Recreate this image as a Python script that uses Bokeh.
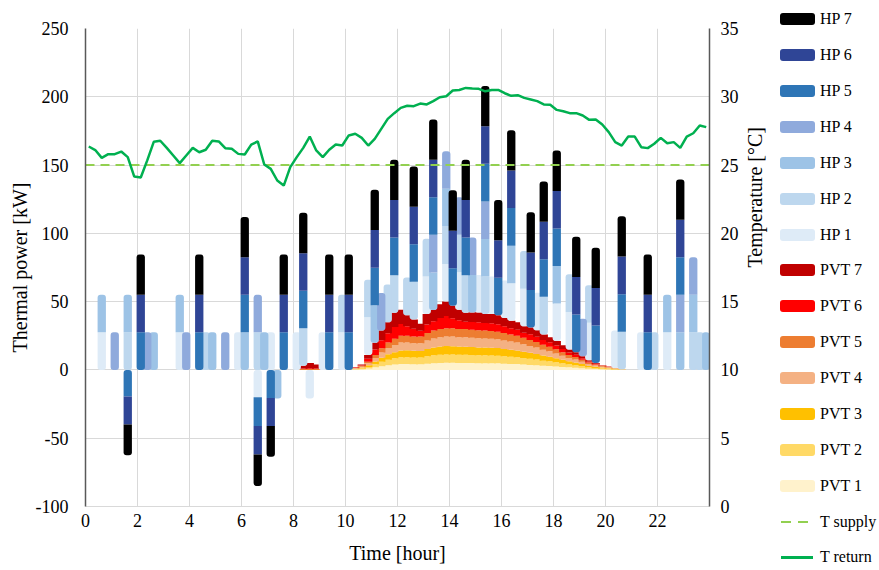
import math
import numpy as np
from bokeh.plotting import figure
from bokeh.layouts import row
from bokeh.models import Range1d, LinearAxis, FixedTicker, Div
from bokeh.embed import file_html
from bokeh.resources import INLINE

# 15-minute slots over one day (slot centres, hours)
time_h = np.arange(96) * 0.25 + 0.125

# Heat pump thermal power per 15-min slot [kW] (negative = cooling)
HP1 = [0, 0, 27.5, 0, 0, 0, 0, 0,   0, 0, 0, 0, 0, 0, 27.5, 0,
       0, 0, 0, 0, 0, 0, 0, 27.5,   0, 0, -20, 0, 27.5, 0, 0, 0,
       27.5, 0, -21, 0, 27.5, 0, 0, 27.5,   0, 0, 0, 27.5, 0, 0, 0, 0,
       0, 0, 0, 0, 27.5, 0, 0, 27.5,   0, 27.5, 0, 0, 27.5, 0, 27.5, 0,
       27.5, 27.5, 0, 27.5, 0, 27.5, 0, 0,   27.5, 0, 27.5, 0, 0, 27.5, 0, 0,
       0, 27.5, 0, 0, 0, 27.5, 0, 0,   0, 27.5, 0, 0, 0, 0, 0, 0]
HP2 = [0, 0, 0, 0, 0, 0, 27.5, 0,   0, 0, 0, 0, 0, 0, 0, 0,
       0, 0, 27.5, 0, 0, 0, 0, 0,   0, 0, 27.5, 0, 0, 0, 0, 0,
       0, 27.5, 0, 0, 0, 0, 0, 27.5,   0, 0, 0, 27.5, 0, 0, 27.5, 27.5,
       0, 27.5, 27.5, 0, 27.5, 0, 0, 27.5,   0, 27.5, 27.5, 0, 0, 27.5, 0, 0,
       0, 0, 0, 27.5, 0, 0, 27.5, 0,   0, 0, 27.5, 0, 0, 27.5, 0, 0,
       0, 0, 27.5, 0, 0, 0, 0, 27.5,   0, 0, 0, 0, 0, 27.5, 27.5, 0]
HP3 = [0, 0, 27.5, 0, 0, 0, 27.5, 0,   0, 0, 27.5, 0, 0, 0, 27.5, 0,
       0, 0, 0, 27.5, 0, 0, 0, 0,   27.5, 0, 0, 27.5, 0, -21, 0, 0,
       0, 0, 0, 0, 0, 0, 0, 0,   0, 0, 0, 0, 27.5, 0, 0, 0,
       0, 0, 0, 0, 0, 27.5, 0, 27.5,   0, 0, 0, 27.5, 0, 27.5, 0, 0,
       0, 27.5, 0, 0, 0, 0, 0, 0,   27.5, 0, 0, 0, 0, 0, 0, 0,
       0, 0, 0, 0, 0, 0, 0, 0,   0, 27.5, 0, 27.5, 0, 27.5, 0, 27.5]
HP4 = [0, 0, 0, 0, 27.5, 0, 0, 0,   0, 27.5, 0, 0, 0, 0, 0, 27.5,
       0, 0, 0, 0, 0, 27.5, 0, 0,   0, 0, 27.5, 0, 0, 0, 0, 0,
       0, 0, 0, 0, 0, 0, 0, 0,   0, 0, 0, 0, 0, 27.5, 0, 0,
       0, 0, 0, 0, 0, 27.5, 0, 27.5,   0, 27.5, 0, 27.5, 0, 27.5, 0, 0,
       0, 0, 0, 0, 0, 0, 0, 0,   0, 0, 0, 0, 27.5, 0, 0, 0,
       0, 0, 0, 0, 0, 0, 0, 0,   0, 0, 0, 27.5, 0, 27.5, 0, 0]
HP5 = [0, 0, 0, 0, 0, 0, -19.5, 0,   27.5, 0, 0, 0, 0, 0, 0, 0,
       0, 27.5, 0, 0, 0, 0, 0, 0,   27.5, 0, -21, 0, -20.5, 0, 27.5, 0,
       0, 27.5, 0, 0, 0, 27.5, 0, 0,   27.5, 0, 0, 0, 27.5, 0, 0, 27.5,
       0, 0, 27.5, 0, 0, 27.5, 0, 0,   27.5, 0, 27.5, 0, 0, 27.5, 0, 27.5,
       0, 27.5, 0, 0, 27.5, 0, 27.5, 0,   27.5, 0, 0, 27.5, 0, 0, 27.5, 0,
       0, 0, 27.5, 0, 0, 0, 27.5, 0,   0, 0, 0, 27.5, 0, 0, 0, 0]
HP6 = [0, 0, 0, 0, 0, 0, -20.5, 0,   27.5, 0, 0, 0, 0, 0, 0, 0,
       0, 27.5, 0, 0, 0, 0, 0, 0,   27.5, 0, -21, 0, -20.5, 0, 27.5, 0,
       0, 27.5, 0, 0, 0, 27.5, 0, 0,   27.5, 0, 0, 0, 27.5, 0, 0, 27.5,
       0, 0, 27.5, 0, 0, 27.5, 0, 0,   27.5, 0, 27.5, 0, 0, 27.5, 0, 27.5,
       0, 27.5, 0, 0, 27.5, 0, 27.5, 0,   27.5, 0, 0, 27.5, 0, 0, 27.5, 0,
       0, 0, 27.5, 0, 0, 0, 27.5, 0,   0, 0, 0, 27.5, 0, 0, 0, 0]
HP7 = [0, 0, 0, 0, 0, 0, -22.5, 0,   29.5, 0, 0, 0, 0, 0, 0, 0,
       0, 29.5, 0, 0, 0, 0, 0, 0,   29.5, 0, -23, 0, -22.5, 0, 29.5, 0,
       0, 29.5, 0, 0, 0, 29.5, 0, 0,   29.5, 0, 0, 0, 29.5, 0, 0, 29.5,
       0, 0, 29.5, 0, 0, 29.5, 0, 0,   29.5, 0, 29.5, 0, 0, 29.5, 0, 29.5,
       0, 29.5, 0, 0, 29.5, 0, 29.5, 0,   29.5, 0, 0, 29.5, 0, 0, 29.5, 0,
       0, 0, 29.5, 0, 0, 0, 29.5, 0,   0, 0, 0, 29.5, 0, 0, 0, 0]

Z8 = [0] * 8
# PVT collectors thermal power per 15-min slot [kW]
PVT1 = Z8 * 5 + [0, 0.3, 0.5, 1.0, 1.9, 2.7, 3.4, 3.9,
                 4.3, 4.3, 4.2, 4.2, 4.6, 4.9, 5.1, 5.2,
                 5.2, 5.1, 5.1, 5.0, 4.9, 4.9, 4.8, 4.8,
                 4.6, 4.4, 4.3, 4.0, 3.7, 3.5, 3.1, 2.9,
                 2.6, 2.2, 1.9, 1.6, 1.3, 0.9, 0.7, 0.5,
                 0.4, 0.2, 0.1, 0, 0, 0, 0, 0] + Z8
PVT2 = Z8 * 5 + [0, 0.3, 0.6, 1.2, 2.2, 3.2, 4.0, 4.6,
                 5.0, 5.0, 4.9, 4.9, 5.4, 5.8, 6.0, 6.1,
                 6.1, 6.0, 6.0, 5.9, 5.8, 5.8, 5.7, 5.6,
                 5.4, 5.2, 5.0, 4.7, 4.4, 4.1, 3.7, 3.4,
                 3.0, 2.6, 2.2, 1.9, 1.5, 1.1, 0.8, 0.6,
                 0.4, 0.3, 0.1, 0, 0, 0, 0, 0] + Z8
PVT3 = Z8 * 5 + [0, 0.3, 0.6, 1.2, 2.1, 3.1, 4.0, 4.5,
                 5.0, 5.1, 4.9, 4.8, 5.4, 5.7, 6.0, 6.2,
                 6.1, 6.0, 5.9, 5.9, 5.8, 5.7, 5.7, 5.6,
                 5.4, 5.2, 5.0, 4.7, 4.4, 4.1, 3.7, 3.4,
                 3.0, 2.6, 2.2, 1.9, 1.5, 1.1, 0.8, 0.6,
                 0.4, 0.3, 0.1, 0, 0, 0, 0, 0] + Z8
PVT4 = Z8 * 5 + [0, 0.3, 0.7, 1.4, 2.5, 3.7, 4.6, 5.3,
                 5.7, 5.7, 5.6, 5.6, 6.2, 6.7, 6.9, 7.0,
                 7.0, 6.9, 6.9, 6.8, 6.7, 6.7, 6.6, 6.4,
                 6.2, 6.0, 5.7, 5.4, 5.1, 4.7, 4.3, 3.9,
                 3.5, 3.0, 2.5, 2.2, 1.7, 1.3, 0.9, 0.7,
                 0.6, 0.4, 0.2, 0, 0, 0, 0, 0] + Z8
PVT5 = Z8 * 4 + [0, 0.7, 0.7, 0.7, 0, 0, 0, 0,
                 0, 0.3, 0.6, 1.2, 2.2, 3.2, 4.0, 4.6,
                 5.0, 5.0, 4.9, 4.9, 5.4, 5.8, 6.0, 6.1,
                 6.1, 6.0, 6.0, 5.9, 5.8, 5.8, 5.7, 5.6,
                 5.4, 5.2, 5.0, 4.7, 4.4, 4.1, 3.7, 3.4,
                 3.0, 2.6, 2.2, 1.9, 1.5, 1.1, 0.8, 0.6,
                 0.4, 0.2, 0, 0, 0, 0, 0, 0] + Z8
PVT6 = Z8 * 4 + [0, 0.3, 0.5, 0.3, 0, 0, 0, 0,
                 0, 0.2, 0.4, 2.2, 4.0, 5.8, 6.8, 8.6,
                 8.6, 6.8, 5.6, 4.3, 6.3, 6.8, 8.1, 8.8,
                 7.4, 6.3, 5.4, 5.6, 5.9, 5.4, 5.6, 5.4,
                 5.0, 4.5, 4.5, 3.8, 4.1, 3.8, 3.4, 3.2,
                 2.7, 2.3, 1.8, 1.6, 1.1, 0.7, 0.5, 0.2,
                 0.1, 0, 0, 0, 0, 0, 0, 0] + Z8
PVT7 = Z8 * 4 + [0, 2.0, 3.8, 3.0, 0, 0, 0, 0,
                 0, 0.3, 0.6, 2.8, 5.0, 7.2, 8.2, 10.4,
                 10.4, 8.2, 6.9, 5.2, 7.7, 8.2, 9.9, 10.7,
                 9.1, 7.7, 6.6, 6.9, 7.1, 6.6, 6.9, 6.6,
                 6.0, 5.5, 5.5, 4.7, 4.9, 4.7, 4.1, 3.8,
                 3.3, 2.7, 2.2, 1.9, 1.4, 0.8, 0.5, 0.3,
                 0.2, 0, 0, 0, 0, 0, 0, 0] + Z8

# Temperatures [degC]
T_supply = 25.0
T_return = [26.36, 26.1, 25.53, 25.8, 25.8, 25.99, 25.58, 24.16,
            24.09, 25.34, 26.7, 26.78, 26.26, 25.7, 25.14, 25.7,
            26.26, 25.94, 26.12, 26.78, 26.73, 26.24, 26.19, 25.82,
            25.77, 26.5, 26.73, 25.04, 24.72, 23.87, 23.5, 24.85,
            25.58, 26.26, 27.09, 26.07, 25.58, 26.12, 26.5, 26.43,
            27.17, 27.29, 26.99, 26.43, 26.92, 27.65, 28.38, 28.8,
            29.19, 29.34, 29.31, 29.5, 29.44, 29.68, 29.97, 30.04,
            30.46, 30.5, 30.65, 30.6, 30.58, 30.4, 30.5, 30.5,
            30.26, 30.07, 30.12, 29.92, 29.8, 29.68, 29.44, 29.41,
            29.04, 28.94, 28.8, 28.8, 28.63, 28.31, 28.34, 27.97,
            27.41, 26.68, 26.43, 27.09, 27.09, 26.31, 26.24, 26.56,
            26.99, 26.6, 26.68, 26.26, 27.09, 27.33, 27.9, 27.78]

hp_names = ["HP 1", "HP 2", "HP 3", "HP 4", "HP 5", "HP 6", "HP 7"]
hp_colors = ["#deebf7", "#bdd7ee", "#9dc3e6", "#8faadc", "#2e75b6", "#2f4596", "#000000"]
pvt_names = ["PVT 1", "PVT 2", "PVT 3", "PVT 4", "PVT 5", "PVT 6", "PVT 7"]
pvt_colors = ["#fff2cc", "#ffd966", "#ffc000", "#f4b183", "#ed7d31", "#ff0000", "#c00000"]
SUP_COLOR, RET_COLOR = "#92d050", "#00b050"

FONT = "Liberation Serif"
GRID = "#d9d9d9"

p = figure(width=779, height=570, output_backend="svg", toolbar_location=None,
           x_range=Range1d(0, 24), y_range=Range1d(-100, 250),
           min_border_left=85, min_border_right=65, min_border_top=28, min_border_bottom=64)
p.outline_line_color = None
p.background_fill_color = "white"
p.border_fill_color = "white"

p.extra_y_ranges = {"temp": Range1d(0, 35)}

BAR_W = 0.32
RAD = 3

# PVT stacked columns (bottom of the stack)
pos_base = np.zeros(96)
for name, col, vals in zip(pvt_names, pvt_colors, [PVT1, PVT2, PVT3, PVT4, PVT5, PVT6, PVT7]):
    v = np.array(vals, dtype=float)
    m = v > 0
    p.vbar(x=time_h[m], bottom=pos_base[m], top=(pos_base + v)[m], width=BAR_W,
           fill_color=col, line_color=None)
    pos_base = pos_base + v

# HP stacked columns on top of the PVT stack; negative values stack downwards from 0
hp_vals = np.array([HP1, HP2, HP3, HP4, HP5, HP6, HP7], dtype=float)
pos_idx = [[i for i in range(7) if hp_vals[i, k] > 0] for k in range(96)]
neg_idx = [[i for i in range(7) if hp_vals[i, k] < 0] for k in range(96)]
neg_base = np.zeros(96)
for i, (name, col) in enumerate(zip(hp_names, hp_colors)):
    groups = {}
    for k in range(96):
        val = hp_vals[i, k]
        if val > 0:
            lo, hi = pos_base[k], pos_base[k] + val
            pos_base[k] = hi
            top_end = pos_idx[k][-1] == i
            bot_end = pos_idx[k][0] == i
        elif val < 0:
            hi, lo = neg_base[k], neg_base[k] + val
            neg_base[k] = lo
            top_end = neg_idx[k][0] == i
            bot_end = neg_idx[k][-1] == i
        else:
            continue
        g = groups.setdefault((top_end, bot_end), ([], [], []))
        g[0].append(time_h[k]); g[1].append(lo); g[2].append(hi)
    for (top_end, bot_end), (xs, bs, ts) in groups.items():
        rt = RAD if top_end else 0
        rb = RAD if bot_end else 0
        p.vbar(x=xs, bottom=bs, top=ts, width=BAR_W, fill_color=col, line_color=None,
               border_radius=(rt, rt, rb, rb))

p.line(x=[0, 24], y=[T_supply, T_supply], y_range_name="temp",
       line_color=SUP_COLOR, line_width=2, line_dash="9 6")
p.line(x=list(time_h), y=T_return, y_range_name="temp",
       line_color=RET_COLOR, line_width=2.5)

# axes
p.xaxis.ticker = FixedTicker(ticks=list(range(0, 24, 2)))
p.yaxis.ticker = FixedTicker(ticks=list(range(-100, 251, 50)))
p.yaxis.major_label_overrides = {-100: "-100", -50: "-50"}
p.xaxis.axis_label = "Time [hour]"
p.yaxis.axis_label = "Thermal power [kW]"

# right temperature axis (ticks + labels)
ax_r = LinearAxis(y_range_name="temp", ticker=FixedTicker(ticks=list(range(0, 36, 5))))
p.add_layout(ax_r, "right")
# right axis title, carried by a tick-less axis so that the rotated title sits centred
ax_t = LinearAxis(y_range_name="temp", ticker=FixedTicker(ticks=[]), bounds=(0, 25.3),
                  axis_label="Temperature [°C]")
p.add_layout(ax_t, "right")

for ax in [p.xaxis[0], p.yaxis[0], ax_r, ax_t]:
    ax.major_tick_line_color = None
    ax.minor_tick_line_color = None
    ax.major_tick_out = 0
    ax.major_tick_in = 0
    ax.minor_tick_out = 0
    ax.minor_tick_in = 0
    ax.major_label_text_font = FONT
    ax.major_label_text_font_size = "18px"
    ax.major_label_text_color = "#000000"
    ax.axis_label_text_font = FONT
    ax.axis_label_text_font_size = "20px"
    ax.axis_label_text_font_style = "normal"
    ax.axis_label_text_color = "#000000"

p.yaxis[0].axis_line_color = "#595959"
p.yaxis[0].axis_line_width = 1.5
ax_r.axis_line_color = "#595959"
ax_r.axis_line_width = 1.5
ax_t.axis_line_color = None
p.xaxis[0].axis_line_color = GRID
p.yaxis[0].major_label_standoff = 17
p.yaxis[0].axis_label_standoff = 2
ax_r.major_label_standoff = 11
ax_t.major_label_standoff = 0
ax_t.axis_label_standoff = 13
ax_t.axis_label_orientation = math.pi / 2
p.xaxis[0].major_label_standoff = 7
p.xaxis[0].axis_label_standoff = 12

p.xgrid.grid_line_color = GRID
p.ygrid.grid_line_color = GRID
p.xgrid.grid_line_width = 1
p.ygrid.grid_line_width = 1

# legend column to the right of the chart
legend_entries = ([(n, c, "box") for n, c in reversed(list(zip(hp_names, hp_colors)))] +
                  [(n, c, "box") for n, c in reversed(list(zip(pvt_names, pvt_colors)))] +
                  [("T supply", SUP_COLOR, "dash"), ("T return", RET_COLOR, "line")])
LEG_TOP, LEG_STEP = 19.3, 35.87
parts = []
for i, (label, col, kind) in enumerate(legend_entries):
    cy = LEG_TOP + i * LEG_STEP
    if kind == "box":
        parts.append(f'<div style="position:absolute;left:1px;top:{cy - 6:.1f}px;width:35px;'
                     f'height:12px;background:{col};border-radius:3px;"></div>')
    elif kind == "dash":
        for x0 in (2, 19):
            parts.append(f'<div style="position:absolute;left:{x0}px;top:{cy - 1:.1f}px;'
                         f'width:10px;height:2px;background:{col};"></div>')
    else:
        parts.append(f'<div style="position:absolute;left:2px;top:{cy - 1.5:.1f}px;'
                     f'width:32px;height:3px;background:{col};"></div>')
    parts.append(f'<div style="position:absolute;left:41px;top:{cy - 10:.1f}px;height:20px;'
                 f'line-height:20px;white-space:nowrap;">{label}</div>')
html = (f'<div style="position:relative;width:100px;height:570px;font-family:\'{FONT}\';'
        f'font-size:16px;color:#000000;background:white;">' + "".join(parts) + '</div>')
legend_div = Div(text=html, width=100, height=570, margin=0)

layout = row(p, legend_div, spacing=0)
open("out.html", "w").write(file_html(layout, INLINE))
